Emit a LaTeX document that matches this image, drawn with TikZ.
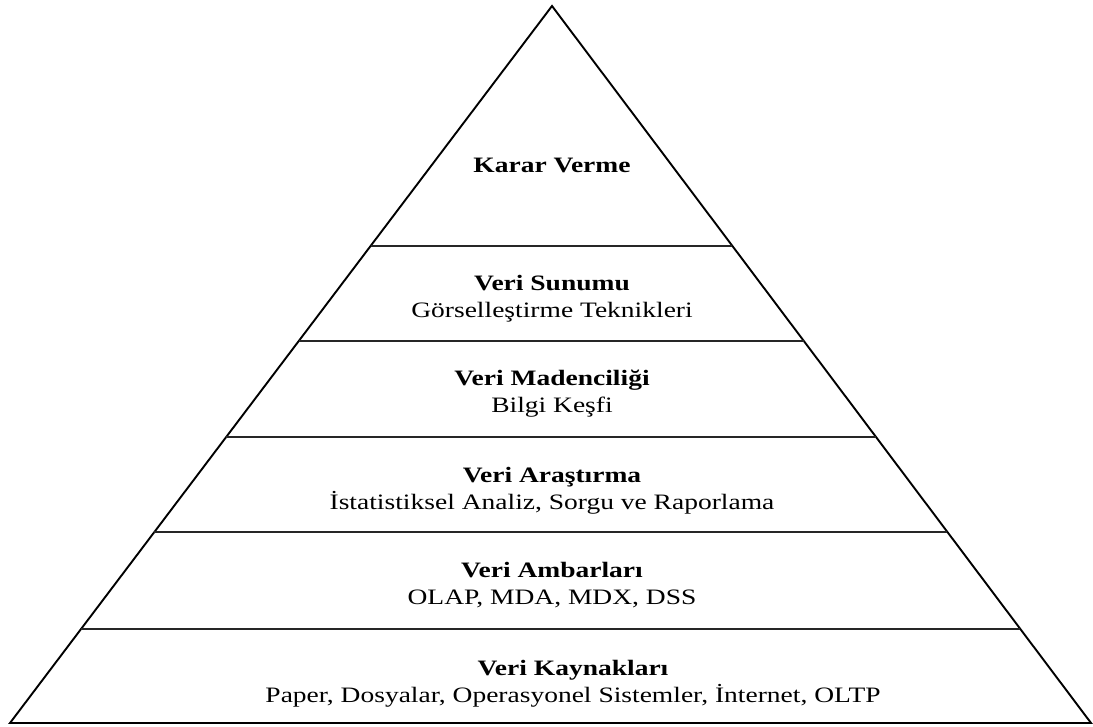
\documentclass[tikz,border=0pt]{standalone}
\usepackage{fontspec}
\setmainfont{Liberation Serif}[FakeStretch=1.25]
\usepackage{tikz}
\usetikzlibrary{calc,positioning}
\tikzset{
  edge/.style={line width=1.9pt, draw=black, line join=miter},
  divider/.style={line width=1.6pt, draw=black!85},
  headtext/.style={anchor=base, inner sep=0pt, font=\fontsize{22}{27}\selectfont\bfseries},
  subtext/.style={anchor=base, inner sep=0pt, font=\fontsize{22}{27}\selectfont}
}

\begin{document}
\begin{tikzpicture}[x=1pt, y=-1pt]
        \useasboundingbox (0,0) rectangle (1093,727);
        \coordinate (apex) at (552,6);
        \coordinate (bl) at (10,723);
        \coordinate (br) at (1091,723);

        % pyramid outline
        \draw[edge] (bl) -- (apex) -- (br) -- cycle;

        % layer dividers
        \coordinate (l1) at ($(apex)!0.3347!(bl)$);
        \coordinate (r1) at ($(apex)!0.3347!(br)$);
        \coordinate (l2) at ($(apex)!0.4672!(bl)$);
        \coordinate (r2) at ($(apex)!0.4672!(br)$);
        \coordinate (l3) at ($(apex)!0.6011!(bl)$);
        \coordinate (r3) at ($(apex)!0.6011!(br)$);
        \coordinate (l4) at ($(apex)!0.7336!(bl)$);
        \coordinate (r4) at ($(apex)!0.7336!(br)$);
        \coordinate (l5) at ($(apex)!0.8689!(bl)$);
        \coordinate (r5) at ($(apex)!0.8689!(br)$);
        \draw[divider] (l1) -- (r1);
        \draw[divider] (l2) -- (r2);
        \draw[divider] (l3) -- (r3);
        \draw[divider] (l4) -- (r4);
        \draw[divider] (l5) -- (r5);

        % layer labels
        \node[headtext] (karar) at (552,173) {Karar Verme};
        \node[headtext] (sunum) at (552,291) {Veri Sunumu};
        \node[subtext] (sunumalt) at ($(sunum.base)+(0,27)$) {Görselleştirme Teknikleri};
        \node[headtext] (maden) at (552,386) {Veri Madenciliği};
        \node[subtext] (madenalt) at ($(maden.base)+(0,27)$) {Bilgi Keşfi};
        \node[headtext] (arastir) at (552,482) {Veri Araştırma};
        \node[subtext] (arastiralt) at ($(arastir.base)+(0,27)$) {İstatistiksel Analiz, Sorgu ve Raporlama};
        \node[headtext] (ambar) at (552,577) {Veri Ambarları};
        \node[subtext] (ambaralt) at ($(ambar.base)+(0,27)$) {OLAP, MDA, MDX, DSS};
        \node[headtext] (kaynak) at (573,675) {Veri Kaynakları};
        \node[subtext] (kaynakalt) at ($(kaynak.base)+(0,27)$) {Paper, Dosyalar, Operasyonel Sistemler, İnternet, OLTP};
    \end{tikzpicture}
\end{document}
